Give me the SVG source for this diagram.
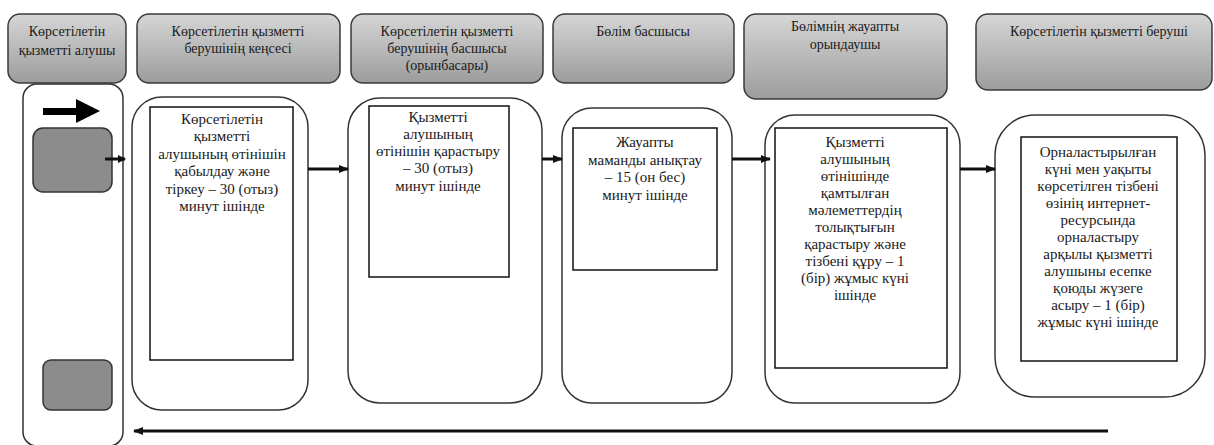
<svg xmlns="http://www.w3.org/2000/svg" width="1214" height="445" viewBox="0 0 1214 445">
<defs>
<linearGradient id="hg" x1="0" y1="0" x2="0" y2="1">
<stop offset="0" stop-color="#d6d6d6"/>
<stop offset="1" stop-color="#9c9c9c"/>
</linearGradient>
<marker id="ah" markerWidth="8" markerHeight="8" refX="7" refY="4" orient="auto" markerUnits="userSpaceOnUse">
<path d="M0,0 L8,4 L0,8 z" fill="#111"/>
</marker>
<marker id="ahs" markerWidth="10" markerHeight="10" refX="9" refY="5" orient="auto" markerUnits="userSpaceOnUse">
<path d="M0,1 L10,5 L0,9 z" fill="#111"/>
</marker>
</defs>
<style>
.hdr{fill:url(#hg);stroke:#3a3a3a;stroke-width:1.5}
.lane{fill:#fff;stroke:#333;stroke-width:1.5}
.inner{fill:#fff;stroke:#111;stroke-width:1.5}
.gb{fill:#8c8c8c;stroke:#333;stroke-width:1.5}
.t{fill:#1a1a1a;text-anchor:middle}
.h{font-size:14px}
.b{font-size:15px}
.conn{stroke:#111;stroke-width:3;fill:none}
</style>
<g font-family="'Liberation Serif', 'Times New Roman', 'DejaVu Serif', serif">
<g id="header1"><rect class="hdr" x="8" y="14" width="118" height="69" rx="12"/>
<text class="t h" x="67" y="36">Көрсетілетін</text><text class="t h" x="67" y="55">қызметті алушы</text></g>
<g id="header2"><rect class="hdr" x="137" y="14" width="203" height="69" rx="12"/>
<text class="t h" x="238" y="36">Көрсетілетін қызметті</text><text class="t h" x="238" y="53">берушінің кеңсесі</text></g>
<g id="header3"><rect class="hdr" x="351" y="14" width="192" height="69" rx="12"/>
<text class="t h" x="447" y="36">Көрсетілетін қызметті</text><text class="t h" x="447" y="53">берушінің басшысы</text><text class="t h" x="447" y="70">(орынбасары)</text></g>
<g id="header4"><rect class="hdr" x="553" y="14" width="181" height="69" rx="12"/>
<text class="t h" x="643" y="36">Бөлім басшысы</text></g>
<g id="header5"><rect class="hdr" x="744" y="14" width="203" height="85" rx="12"/>
<text class="t h" x="845" y="31">Бөлімнің жауапты</text><text class="t h" x="845" y="49">орындаушы</text></g>
<g id="header6"><rect class="hdr" x="976" y="14" width="236" height="76" rx="12"/>
<text class="t h" x="1099" y="36">Көрсетілетін қызметті беруші</text></g>

<g id="lane1">
<rect class="lane" x="23" y="84" width="100" height="362" rx="14"/>
<path d="M43,108 H76 V99 L100,111 L76,123 V115 H43 z" fill="#000"/>
<rect class="gb" x="33" y="128" width="79" height="64" rx="10"/>
<rect class="gb" x="43" y="360" width="69" height="50" rx="8"/>
</g>

<g id="lane2">
<rect class="lane" x="132" y="97" width="176" height="313" rx="30"/>
<rect class="inner" x="150" y="107" width="143" height="253"/>
<text class="t b" x="222" y="124">Көрсетілетін</text>
<text class="t b" x="222" y="141">қызметті</text>
<text class="t b" x="222" y="159">алушының өтінішін</text>
<text class="t b" x="222" y="176">қабылдау және</text>
<text class="t b" x="222" y="194">тіркеу – 30 (отыз)</text>
<text class="t b" x="222" y="211">минут ішінде</text>
</g>

<g id="lane3">
<rect class="lane" x="348" y="98" width="194" height="305" rx="32"/>
<rect class="inner" x="369" y="106" width="140" height="171"/>
<text class="t b" x="438" y="122">Қызметті</text>
<text class="t b" x="438" y="139">алушының</text>
<text class="t b" x="438" y="156">өтінішін қарастыру</text>
<text class="t b" x="438" y="173">–  30 (отыз)</text>
<text class="t b" x="438" y="191">минут ішінде</text>
</g>

<g id="lane4">
<rect class="lane" x="562" y="108" width="170" height="295" rx="30"/>
<rect class="inner" x="573" y="128" width="144" height="142"/>
<text class="t b" x="645" y="147">Жауапты</text>
<text class="t b" x="645" y="165">маманды анықтау</text>
<text class="t b" x="645" y="182">– 15 (он бес)</text>
<text class="t b" x="645" y="200">минут ішінде</text>
</g>

<g id="lane5">
<rect class="lane" x="765" y="115" width="195" height="288" rx="30"/>
<rect class="inner" x="775" y="128" width="172" height="240"/>
<text class="t b" x="855" y="147">Қызметті</text>
<text class="t b" x="855" y="164">алушының</text>
<text class="t b" x="855" y="181">өтінішінде</text>
<text class="t b" x="855" y="198">қамтылған</text>
<text class="t b" x="855" y="215">мәлеметтердің</text>
<text class="t b" x="855" y="232">толықтығын</text>
<text class="t b" x="855" y="249">қарастыру және</text>
<text class="t b" x="855" y="266">тізбені құру –  1</text>
<text class="t b" x="855" y="283">(бір) жұмыс күні</text>
<text class="t b" x="855" y="300">ішінде</text>
</g>

<g id="lane6">
<rect class="lane" x="995" y="115" width="210" height="282" rx="40"/>
<rect class="inner" x="1021" y="137" width="156" height="224"/>
<text class="t b" x="1098" y="157">Орналастырылған</text>
<text class="t b" x="1098" y="174">күні мен уақыты</text>
<text class="t b" x="1098" y="191">көрсетілген тізбені</text>
<text class="t b" x="1098" y="208">өзінің интернет-</text>
<text class="t b" x="1098" y="225">ресурсында</text>
<text class="t b" x="1098" y="242">орналастыру</text>
<text class="t b" x="1098" y="259">арқылы қызметті</text>
<text class="t b" x="1098" y="276">алушыны есепке</text>
<text class="t b" x="1098" y="293">қоюды жүзеге</text>
<text class="t b" x="1098" y="310">асыру – 1 (бір)</text>
<text class="t b" x="1098" y="327">жұмыс күні ішінде</text>
</g>

<g id="connectors">
<line class="conn" x1="105" y1="159" x2="125" y2="159" stroke-width="2" marker-end="url(#ah)"/>
<line class="conn" x1="308" y1="169" x2="348" y2="169" marker-end="url(#ahs)"/>
<line class="conn" x1="542" y1="159" x2="562" y2="159" marker-end="url(#ahs)"/>
<line class="conn" x1="732" y1="159" x2="770" y2="159" marker-end="url(#ahs)"/>
<line class="conn" x1="960" y1="169" x2="995" y2="169" marker-end="url(#ahs)"/>
<line class="conn" x1="1108" y1="431" x2="134" y2="431" stroke="#333" marker-end="url(#ahs)"/>
</g>
</g>
</svg>
